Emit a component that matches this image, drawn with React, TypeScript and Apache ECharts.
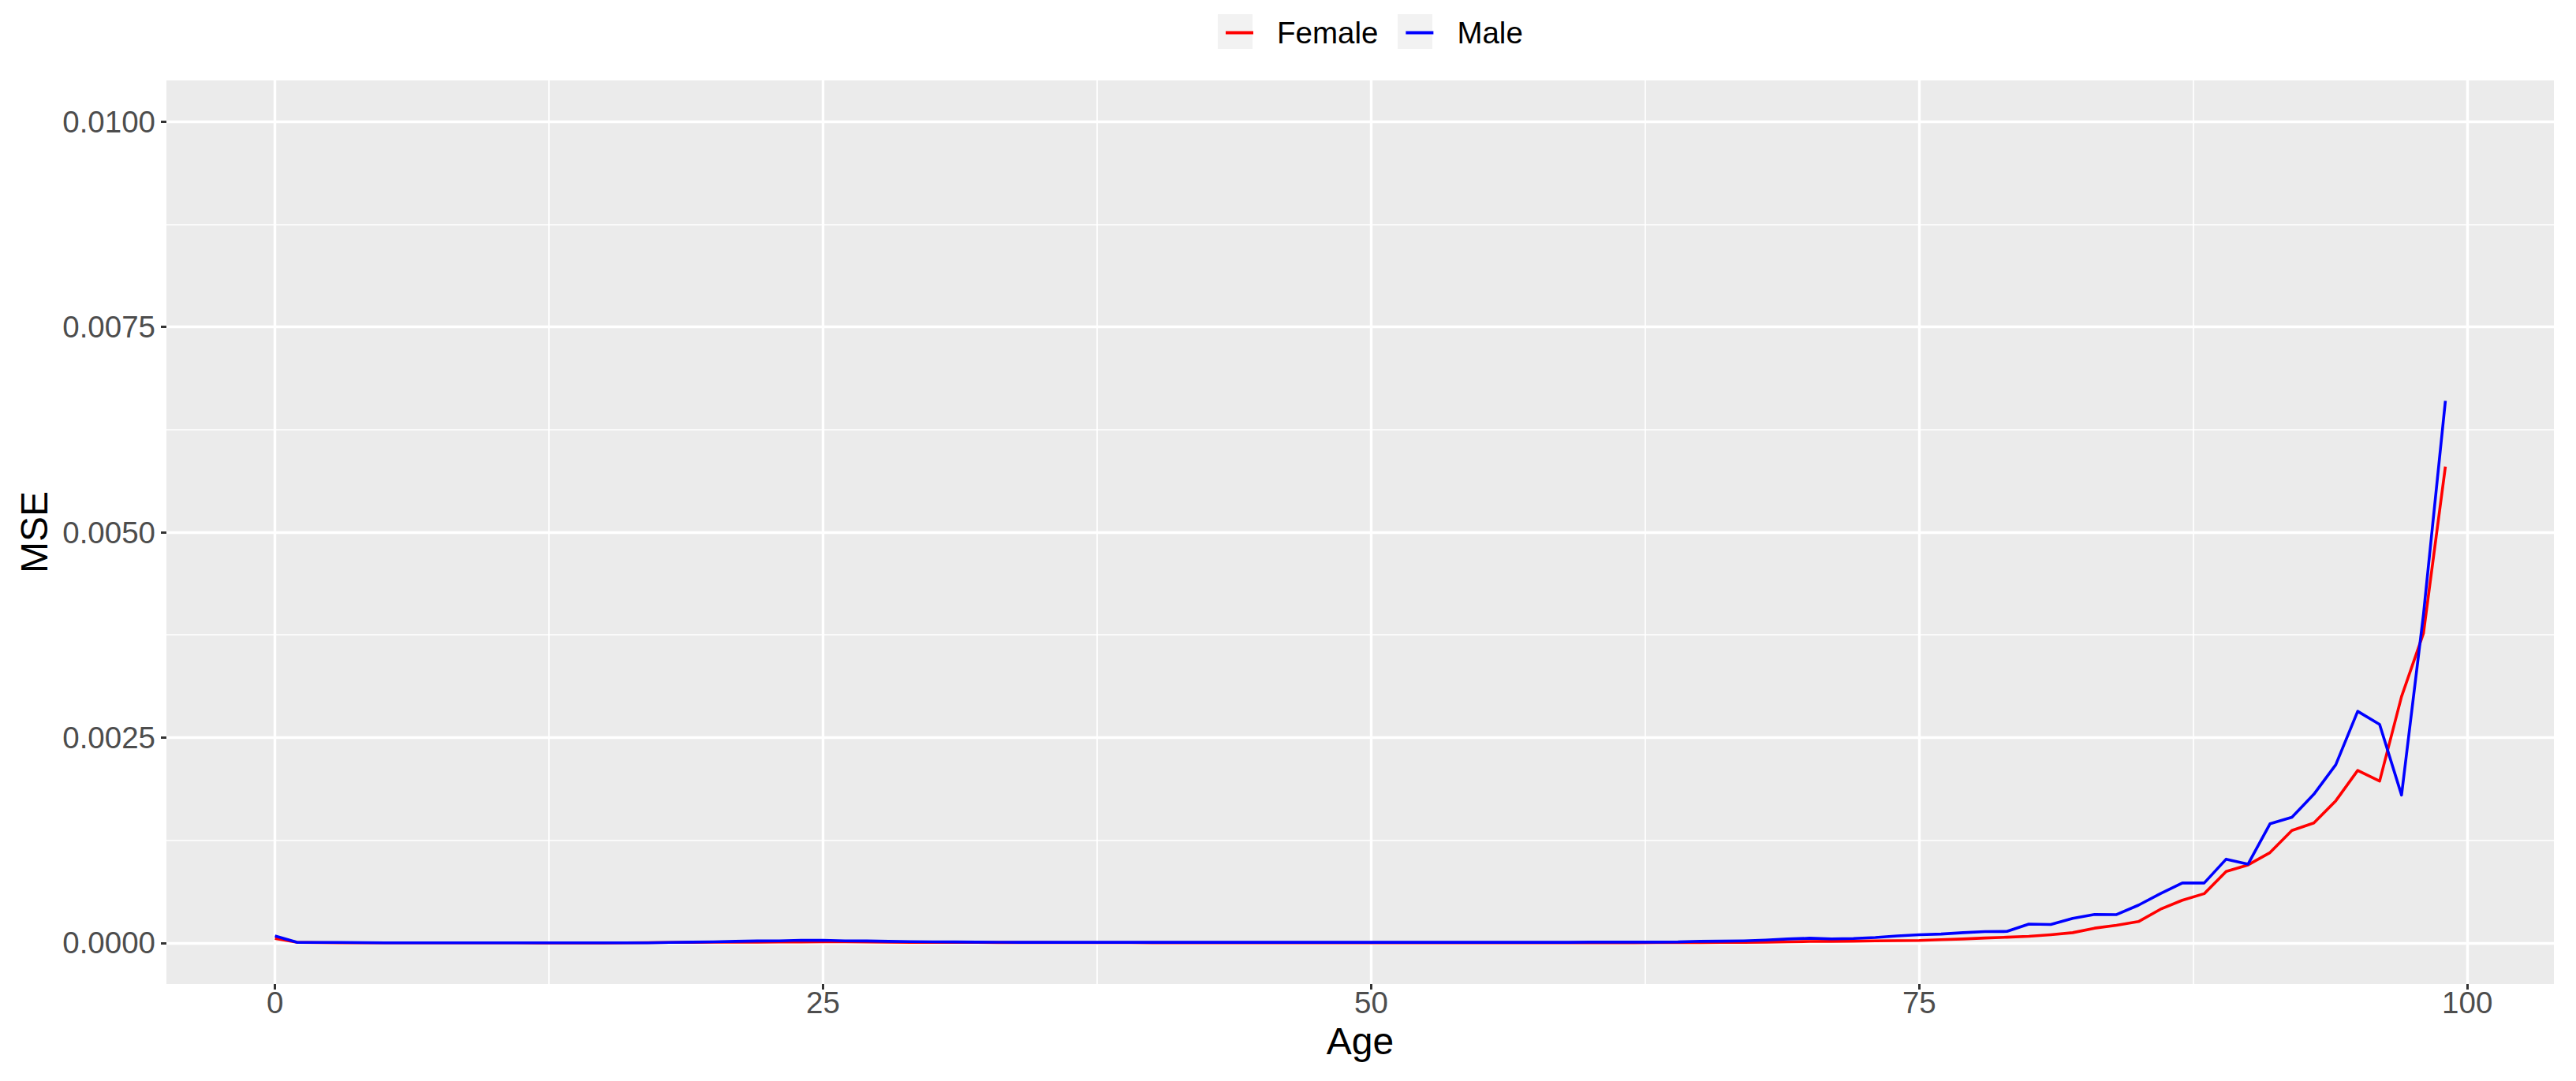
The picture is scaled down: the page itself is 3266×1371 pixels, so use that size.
import React, { useEffect, useRef } from "react";
import * as echarts from "echarts";

const FONT = "'Liberation Sans', Arial, Helvetica, sans-serif";

const ages = [
  0, 1, 2, 3, 4, 5, 6, 7, 8, 9,
  10, 11, 12, 13, 14, 15, 16, 17, 18, 19,
  20, 21, 22, 23, 24, 25, 26, 27, 28, 29,
  30, 31, 32, 33, 34, 35, 36, 37, 38, 39,
  40, 41, 42, 43, 44, 45, 46, 47, 48, 49,
  50, 51, 52, 53, 54, 55, 56, 57, 58, 59,
  60, 61, 62, 63, 64, 65, 66, 67, 68, 69,
  70, 71, 72, 73, 74, 75, 76, 77, 78, 79,
  80, 81, 82, 83, 84, 85, 86, 87, 88, 89,
  90, 91, 92, 93, 94, 95, 96, 97, 98, 99,
];

const femaleMSE = [
  0.000055, 0.000008, 0.000004, 0.000002, 0.000001, 0.000001, 0.000001, 0.000001, 0.000001, 0.000001,
  0.000001, 0.000001, 0.0, 0.0, 0.0, 0.0, 0.000002, 0.000004, 0.000006, 0.000008,
  0.000009, 0.00001, 0.00001, 0.000011, 0.000012, 0.000013, 0.000013, 0.000012, 0.00001, 0.000008,
  0.000007, 0.000006, 0.000006, 0.000005, 0.000005, 0.000005, 0.000004, 0.000004, 0.000004, 0.000004,
  0.000003, 0.000003, 0.000003, 0.000003, 0.000003, 0.000003, 0.000003, 0.000003, 0.000003, 0.000003,
  0.000003, 0.000003, 0.000003, 0.000003, 0.000003, 0.000003, 0.000003, 0.000003, 0.000003, 0.000003,
  0.000003, 0.000003, 0.000003, 0.000004, 0.000004, 0.000005, 0.000006, 0.000008, 0.00001, 0.000014,
  0.000018, 0.00002, 0.000022, 0.000026, 0.000028, 0.00003, 0.00004, 0.000048, 0.00006, 0.00007,
  0.00008, 0.0001, 0.000125, 0.00018, 0.000215, 0.00026, 0.00041, 0.00052, 0.0006, 0.00087,
  0.00095, 0.0011, 0.00137, 0.00146, 0.00173, 0.0021, 0.00197, 0.003, 0.00377, 0.0058,
];

const maleMSE = [
  0.000085, 0.000008, 0.000007, 0.000006, 0.000004, 0.000002, 0.000002, 0.000002, 0.000002, 0.000002,
  0.000002, 0.000002, 0.000002, 0.000002, 0.000002, 0.000002, 0.000002, 0.000002, 0.000006, 0.00001,
  0.000014, 0.00002, 0.000024, 0.000026, 0.000032, 0.000032, 0.000026, 0.000024, 0.00002, 0.000016,
  0.000014, 0.000012, 0.00001, 0.000009, 0.000008, 0.000008, 0.000008, 0.000008, 0.000008, 0.000008,
  0.000008, 0.000008, 0.000008, 0.000008, 0.000008, 0.000008, 0.000008, 0.000008, 0.000008, 0.000008,
  0.000008, 0.000008, 0.000008, 0.000008, 0.000008, 0.000008, 0.000008, 0.000008, 0.000008, 0.000008,
  0.00001, 0.00001, 0.00001, 0.00001, 0.000012, 0.00002, 0.000022, 0.000026, 0.000035, 0.000048,
  0.000058, 0.00005, 0.000055, 0.000066, 0.000085, 0.0001, 0.000108, 0.000125, 0.000138, 0.00014,
  0.00023, 0.000224, 0.0003, 0.000347, 0.000345, 0.00046, 0.0006, 0.00073, 0.00073, 0.00102,
  0.00096, 0.00145, 0.00153, 0.00181, 0.00217, 0.00282, 0.00266, 0.0018, 0.004, 0.0066,
];

const xTicks = [0, 25, 50, 75, 100];
const xMinor = [12.5, 37.5, 62.5, 87.5];
const yTicks = [0, 0.0025, 0.005, 0.0075, 0.01];
const yMinor = [0.00125, 0.00375, 0.00625, 0.00875];
const seriesNames = ["Female", "Male"];
const seriesColors = ["#FF0000", "#0000FF"];

export default function App() {
  const ref = useRef<HTMLDivElement>(null);

  useEffect(() => {
    if (!ref.current) return;
    const chart = echarts.init(ref.current, undefined, { renderer: "svg" });

    const MAJOR = 3.4;
    const MINOR = 1.7;
    const gridLines = [
      ...yMinor.map((v) => ({ yAxis: v, lineStyle: { width: MINOR } })),
      ...xMinor.map((v) => ({ xAxis: v, lineStyle: { width: MINOR } })),
      ...yTicks.map((v) => ({ yAxis: v, lineStyle: { width: MAJOR } })),
      ...xTicks.map((v) => ({ xAxis: v, lineStyle: { width: MAJOR } })),
    ];

    const dataSeries = [femaleMSE, maleMSE].map((vals, i) => ({
      name: seriesNames[i],
      type: "line",
      z: 10 + i,
      data: ages.map((a, j) => [a, vals[j]]),
      showSymbol: false,
      symbol: "none",
      silent: true,
      lineStyle: { color: seriesColors[i], width: 3.6, join: "round", cap: "butt" },
      itemStyle: { color: seriesColors[i] },
      emphasis: { disabled: true },
    }));

    const option: any = {
      animation: false,
      backgroundColor: "#FFFFFF",
      textStyle: { fontFamily: FONT },
      grid: {
        left: 211,
        right: 28,
        top: 102,
        bottom: 123,
        show: true,
        backgroundColor: "#EBEBEB",
        borderWidth: 0,
        containLabel: false,
      },
      legend: {
        data: seriesNames,
        left: 1549,
        top: 17,
        icon: "rect",
        itemWidth: 35,
        itemHeight: 4,
        itemGap: 35,
        selectedMode: false,
        formatter: "{a|{name}}",
        textStyle: {
          fontFamily: FONT,
          fontSize: 38.5,
          color: "#000000",
          rich: {
            a: { fontFamily: FONT, fontSize: 38.5, color: "#000000", padding: [0, 0, 0, 25] },
          },
        },
      },
      graphic: [
        { type: "rect", left: 1544, top: 18, z: 0, shape: { width: 44, height: 44 }, style: { fill: "#F2F2F2" } },
        { type: "rect", left: 1772, top: 18, z: 0, shape: { width: 44, height: 44 }, style: { fill: "#F2F2F2" } },
      ],
      xAxis: {
        type: "value",
        min: -4.95,
        max: 103.95,
        name: "Age",
        nameLocation: "middle",
        nameGap: 48,
        nameTextStyle: { fontFamily: FONT, fontSize: 48, color: "#000000" },
        axisLine: { show: false, onZero: false },
        axisTick: { show: true, length: 7, lineStyle: { color: "#333333", width: 3 }, customValues: xTicks },
        axisLabel: {
          customValues: xTicks,
          fontFamily: FONT,
          fontSize: 38.5,
          color: "#4D4D4D",
          margin: 4,
          formatter: (v: number) => String(v),
        },
        splitLine: { show: false },
        minorSplitLine: { show: false },
      },
      yAxis: {
        type: "value",
        min: -0.0005,
        max: 0.0105,
        name: "MSE",
        nameLocation: "middle",
        nameGap: 144,
        nameTextStyle: { fontFamily: FONT, fontSize: 48, color: "#000000" },
        axisLine: { show: false, onZero: false },
        axisTick: { show: true, length: 7, lineStyle: { color: "#333333", width: 3 }, customValues: yTicks },
        axisLabel: {
          customValues: yTicks,
          fontFamily: FONT,
          fontSize: 38.5,
          color: "#4D4D4D",
          margin: 14,
          formatter: (v: number) => v.toFixed(4),
        },
        splitLine: { show: false },
        minorSplitLine: { show: false },
      },
      series: [
        {
          name: "_grid",
          type: "line",
          z: 1,
          silent: true,
          data: [],
          showSymbol: false,
          markLine: {
            z: 1,
            silent: true,
            precision: 8,
            symbol: ["none", "none"],
            label: { show: false },
            emphasis: { disabled: true },
            lineStyle: { color: "#FFFFFF", type: "solid", opacity: 1 },
            data: gridLines,
          },
        },
        ...dataSeries,
      ],
    };

    chart.setOption(option);
    return () => chart.dispose();
  }, []);

  return (
    <div
      ref={ref}
      style={{ position: "fixed", left: 0, top: 0, width: 3266, height: 1371, background: "#FFFFFF" }}
    />
  );
}
